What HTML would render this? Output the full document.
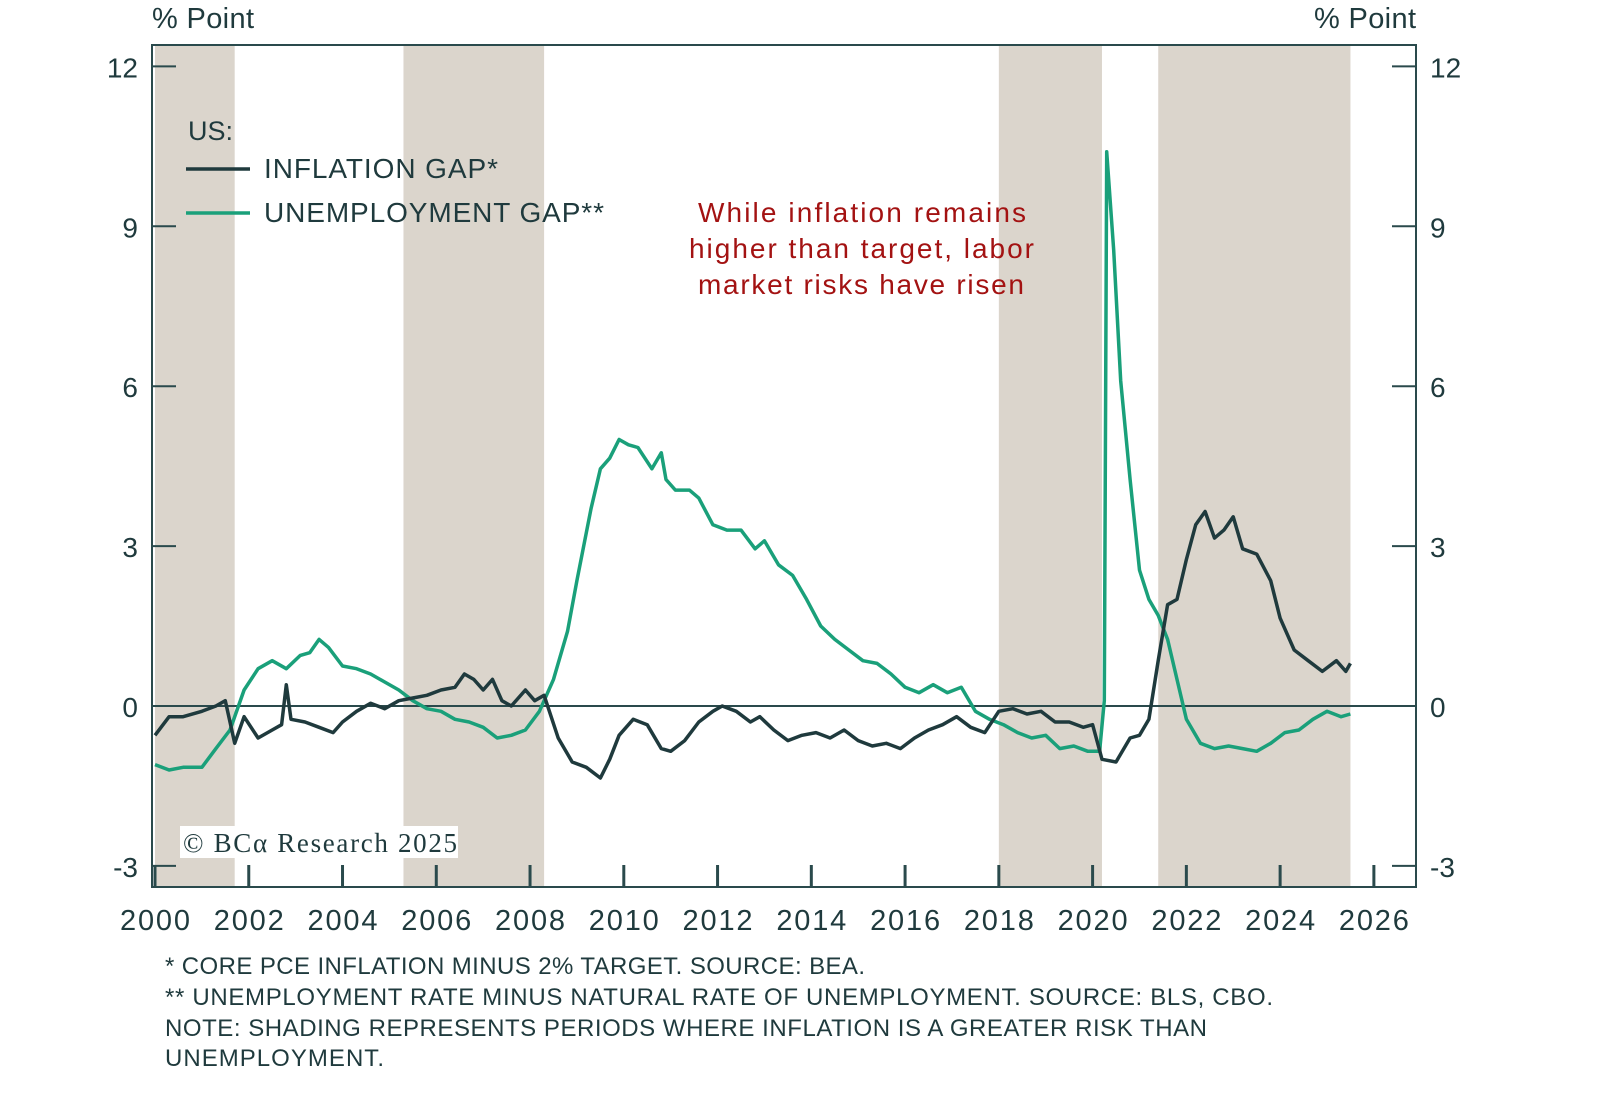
<!DOCTYPE html>
<html><head><meta charset="utf-8"><style>
body{margin:0;background:#fff;}
svg text{font-family:"Liberation Sans",sans-serif;}
</style></head><body>
<svg id="chart" width="1600" height="1107" viewBox="0 0 1600 1107">
<g id="shades"></g>
<rect x="152" y="45" width="1264" height="842" fill="none" stroke="#2a4a4c" stroke-width="2"/>
<g id="ticks"></g>
<g id="series"></g>
<text x="152" y="28" font-size="29" fill="#1f3a3d" textLength="102">% Point</text>
<text x="1314" y="28" font-size="29" fill="#1f3a3d" textLength="102">% Point</text>
<g>
<text x="188" y="140" font-size="27" fill="#1f3a3d">US:</text>
<line x1="186" y1="169" x2="250" y2="169" stroke="#1f3a3d" stroke-width="3.5"/>
<text x="264" y="178" font-size="28" fill="#1f3a3d" textLength="234">INFLATION GAP*</text>
<line x1="186" y1="213" x2="250" y2="213" stroke="#1aa07a" stroke-width="3.5"/>
<text x="264" y="222" font-size="28" fill="#1f3a3d" textLength="340">UNEMPLOYMENT GAP**</text>
</g>
<g font-size="28" fill="#a31212">
<text x="698" y="222" textLength="328">While inflation remains</text>
<text x="689" y="258" textLength="345">higher than target, labor</text>
<text x="698" y="294" textLength="326">market risks have risen</text>
</g>
<rect x="180" y="826" width="278" height="32" fill="#fff"/>
<text x="183" y="852" font-size="27" fill="#1f3a3d" textLength="274" style="font-family:'Liberation Serif',serif">© BCα Research 2025</text>
<g font-size="24" fill="#1f3a3d">
<text x="165" y="974" textLength="700">* CORE PCE INFLATION MINUS 2% TARGET. SOURCE: BEA.</text>
<text x="165" y="1005" textLength="1108">** UNEMPLOYMENT RATE MINUS NATURAL RATE OF UNEMPLOYMENT. SOURCE: BLS, CBO.</text>
<text x="165" y="1036" textLength="1042">NOTE: SHADING REPRESENTS PERIODS WHERE INFLATION IS A GREATER RISK THAN</text>
<text x="165" y="1066" textLength="219">UNEMPLOYMENT.</text>
</g>
</svg>
<script>
const yTicks=[-3,0,3,6,9,12];
const xTicks=[2000,2002,2004,2006,2008,2010,2012,2014,2016,2018,2020,2022,2024,2026];
const shadeStarts=[2000,2005.3,2018,2021.4];
const shadeEnds=[2001.7,2008.3,2020.2,2025.5];
const inflX=[2000.0,2000.3,2000.6,2001.0,2001.3,2001.5,2001.7,2001.9,2002.2,2002.5,2002.7,2002.8,2002.9,2003.2,2003.5,2003.8,2004.0,2004.3,2004.6,2004.9,2005.2,2005.5,2005.8,2006.1,2006.4,2006.6,2006.8,2007.0,2007.2,2007.4,2007.6,2007.9,2008.1,2008.3,2008.6,2008.9,2009.2,2009.5,2009.7,2009.9,2010.2,2010.5,2010.8,2011.0,2011.3,2011.6,2011.9,2012.1,2012.4,2012.7,2012.9,2013.2,2013.5,2013.8,2014.1,2014.4,2014.7,2015.0,2015.3,2015.6,2015.9,2016.2,2016.5,2016.8,2017.1,2017.4,2017.7,2018.0,2018.3,2018.6,2018.9,2019.2,2019.5,2019.8,2020.0,2020.2,2020.5,2020.8,2021.0,2021.2,2021.4,2021.6,2021.8,2022.0,2022.2,2022.4,2022.6,2022.8,2023.0,2023.2,2023.5,2023.8,2024.0,2024.3,2024.6,2024.9,2025.2,2025.4,2025.5];
const inflY=[-0.55,-0.2,-0.2,-0.1,0.0,0.1,-0.7,-0.2,-0.6,-0.45,-0.35,0.4,-0.25,-0.3,-0.4,-0.5,-0.3,-0.1,0.05,-0.05,0.1,0.15,0.2,0.3,0.35,0.6,0.5,0.3,0.5,0.1,0,0.3,0.1,0.2,-0.6,-1.05,-1.15,-1.35,-1.0,-0.55,-0.25,-0.35,-0.8,-0.85,-0.65,-0.3,-0.1,0.0,-0.1,-0.3,-0.2,-0.45,-0.65,-0.55,-0.5,-0.6,-0.45,-0.65,-0.75,-0.7,-0.8,-0.6,-0.45,-0.35,-0.2,-0.4,-0.5,-0.1,-0.05,-0.15,-0.1,-0.3,-0.3,-0.4,-0.35,-1.0,-1.05,-0.6,-0.55,-0.25,0.85,1.9,2.0,2.75,3.4,3.65,3.15,3.3,3.55,2.95,2.85,2.35,1.65,1.05,0.85,0.65,0.85,0.65,0.8];
const unX=[2000.0,2000.3,2000.6,2001.0,2001.3,2001.6,2001.9,2002.2,2002.5,2002.8,2003.1,2003.3,2003.5,2003.7,2004.0,2004.3,2004.6,2004.9,2005.2,2005.5,2005.8,2006.1,2006.4,2006.7,2007.0,2007.3,2007.6,2007.9,2008.2,2008.5,2008.8,2009.0,2009.3,2009.5,2009.7,2009.9,2010.1,2010.3,2010.6,2010.8,2010.9,2011.1,2011.4,2011.6,2011.9,2012.2,2012.5,2012.8,2013.0,2013.3,2013.6,2013.9,2014.2,2014.5,2014.8,2015.1,2015.4,2015.7,2016.0,2016.3,2016.6,2016.9,2017.2,2017.5,2017.8,2018.1,2018.4,2018.7,2019.0,2019.3,2019.6,2019.9,2020.15,2020.25,2020.3,2020.45,2020.6,2020.8,2021.0,2021.2,2021.4,2021.6,2021.8,2022.0,2022.3,2022.6,2022.9,2023.2,2023.5,2023.8,2024.1,2024.4,2024.7,2025.0,2025.3,2025.5];
const unY=[-1.1,-1.2,-1.15,-1.15,-0.8,-0.45,0.3,0.7,0.85,0.7,0.95,1.0,1.25,1.1,0.75,0.7,0.6,0.45,0.3,0.1,-0.05,-0.1,-0.25,-0.3,-0.4,-0.6,-0.55,-0.45,-0.1,0.5,1.4,2.35,3.7,4.45,4.65,5.0,4.9,4.85,4.45,4.75,4.25,4.05,4.05,3.9,3.4,3.3,3.3,2.95,3.1,2.65,2.45,2.0,1.5,1.25,1.05,0.85,0.8,0.6,0.35,0.25,0.4,0.25,0.35,-0.1,-0.25,-0.35,-0.5,-0.6,-0.55,-0.8,-0.75,-0.85,-0.85,0.1,10.4,8.55,6.1,4.25,2.55,2.0,1.7,1.25,0.5,-0.25,-0.7,-0.8,-0.75,-0.8,-0.85,-0.7,-0.5,-0.45,-0.25,-0.1,-0.2,-0.15];
const NS='http://www.w3.org/2000/svg';
const X=v=>155+(v-2000)*46.88;
const Y=v=>706-v*53.3;
function mk(tag,attrs,parent){const e=document.createElementNS(NS,tag);for(const k in attrs)e.setAttribute(k,attrs[k]);parent.appendChild(e);return e;}
const sh=document.getElementById('shades');
shadeStarts.forEach((s,i)=>{
 const x0=Math.max(152,X(s)),x1=X(shadeEnds[i]);
 const r=mk('rect',{x:x0,y:45,width:x1-x0,height:842,fill:'#dbd5cc'},sh);
 
 
});
const tk=document.getElementById('ticks');
yTicks.forEach(v=>{
 const y=Y(v);
 mk('line',{x1:152,x2:176,y1:y,y2:y,stroke:'#2a4a4c','stroke-width':2},tk);
 mk('line',{x1:1392,x2:1416,y1:y,y2:y,stroke:'#2a4a4c','stroke-width':2},tk);
 const l=mk('text',{x:138,y:y+11,'font-size':28,fill:'#1f3a3d','text-anchor':'end'},tk);l.textContent=v;
 
 
 const r=mk('text',{x:1430,y:y+11,'font-size':28,fill:'#1f3a3d'},tk);r.textContent=v;
 
 
});
xTicks.forEach(v=>{
 const x=X(v);
 mk('line',{x1:x,x2:x,y1:865,y2:887,stroke:'#2a4a4c','stroke-width':3},tk);
 const t=mk('text',{x:x,y:930,'font-size':29,fill:'#1f3a3d','text-anchor':'middle',textLength:70},tk);t.textContent=v;
 
 
});
const zl=mk('line',{x1:152,x2:1416,y1:Y(0),y2:Y(0),stroke:'#2a4a4c','stroke-width':2},tk);


const sg=document.getElementById('series');
function line(xs,ys,col,name){
 const p=mk('path',{d:xs.map((x,i)=>(i?'L':'M')+X(x).toFixed(1)+','+Y(ys[i]).toFixed(1)).join(''),fill:'none',stroke:col,'stroke-width':3.5,'stroke-linejoin':'round'},sg);
 
 
}
line(unX,unY,'#1aa07a','unemployment-gap-line');
line(inflX,inflY,'#1f3a3d','inflation-gap-line');
</script>
</body></html>
